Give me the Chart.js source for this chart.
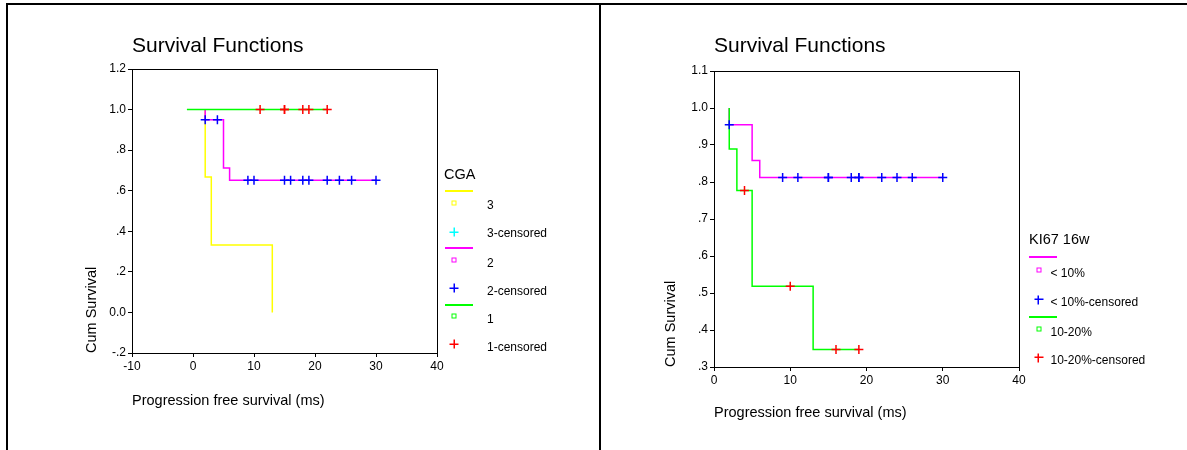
<!DOCTYPE html>
<html>
<head>
<meta charset="utf-8">
<script src="https://cdn.jsdelivr.net/npm/chart.js@4/dist/chart.umd.min.js"></script>
<style>
  body { margin: 0; background: #fff; font-family: Arial, "Liberation Sans", sans-serif; color: #000; }
  #page { position: relative; width: 1187px; height: 450px; overflow: hidden; }
  .rule { position: absolute; background: #000; }
  canvas { position: absolute; z-index: 1; }
  .leg { position: absolute; left: 0; top: 0; z-index: 5; }
  .leg-title { position: absolute; font-size: 14.5px; white-space: nowrap; transform: translateY(-50%); }
  .leg-text { position: absolute; font-size: 12px; white-space: nowrap; transform: translateY(-50%); }
  .leg-line { position: absolute; height: 2px; width: 28px; }
  .leg-sq { position: absolute; width: 3px; height: 3px; border: 1.5px solid; transform: translate(-50%, -50%); }
  .leg-cross { position: absolute; width: 9px; height: 9px; transform: translate(-50%, -50%); }
</style>
</head>
<body>
<div id="page">
  <div class="rule" style="left:6px;top:3px;width:1181px;height:2px"></div>
  <div class="rule" style="left:6px;top:3px;width:2px;height:447px"></div>
  <div class="rule" style="left:599px;top:3px;width:2px;height:447px"></div>

  <canvas id="cgaChart" width="380" height="410" style="left:80px;top:20px"></canvas>
  <canvas id="kiChart" width="380" height="410" style="left:662px;top:20px"></canvas>

  <div id="cgaLegend" class="leg"></div>
  <div id="kiLegend" class="leg"></div>
</div>

<script>
// ---- dados: grafico da esquerda (CGA) ----
const cgaTitle = 'CGA';
const cga3Time = [2, 2, 3, 13];
const cga3Surv = [1, 0.667, 0.333, 0];
const cga2Time = [2, 2, 5, 6, 30];
const cga2Surv = [1, 0.95, 0.712, 0.651, 0.651];
const cga1Time = [-1, 22];
const cga1Surv = [1, 1];
const cga2CensTime = [2, 4, 9, 10, 15, 16, 18, 19, 22, 24, 26, 30];
const cga2CensSurv = [0.95, 0.95, 0.651, 0.651, 0.651, 0.651, 0.651, 0.651, 0.651, 0.651, 0.651, 0.651];
const cga1CensTime = [11, 15, 15, 18, 19, 22];
const cga1CensSurv = [1, 1, 1, 1, 1, 1];
const cgaYTicks = ['-.2', '0.0', '.2', '.4', '.6', '.8', '1.0', '1.2'];
const cgaXTicks = ['-10', '0', '10', '20', '30', '40'];

// ---- dados: grafico da direita (KI67 16w) ----
const kiTitle = 'KI67 16w';
const kiLowTime = [2, 2, 5, 6, 30];
const kiLowSurv = [1, 0.955, 0.858, 0.812, 0.812];
const kiHighTime = [2, 2, 3, 5, 13, 19];
const kiHighSurv = [1, 0.889, 0.777, 0.518, 0.347, 0.347];
const kiLowCensTime = [2, 9, 11, 15, 15, 18, 19, 19, 22, 24, 26, 30];
const kiLowCensSurv = [0.955, 0.812, 0.812, 0.812, 0.812, 0.812, 0.812, 0.812, 0.812, 0.812, 0.812, 0.812];
const kiHighCensTime = [4, 10, 16, 19];
const kiHighCensSurv = [0.777, 0.518, 0.347, 0.347];
const kiYTicks = ['.3', '.4', '.5', '.6', '.7', '.8', '.9', '1.0', '1.1'];
const kiXTicks = ['0', '10', '20', '30', '40'];

const FONT = 'Arial, "Liberation Sans", sans-serif';
Chart.defaults.font.family = FONT;
Chart.defaults.color = '#000';

function pts(xs, ys) {
    return xs.map((x, i) => ({ x: x, y: ys[i] }));
}

function curve(label, xs, ys, color) {
    return { label: label, data: pts(xs, ys), borderColor: color, borderWidth: 1.5,
             stepped: 'before', pointRadius: 0, fill: false, order: 2 };
}

function marks(label, xs, ys, color) {
    return { label: label, data: pts(xs, ys), borderColor: color, backgroundColor: color,
             showLine: false, pointStyle: 'cross', pointRadius: 4.5, borderWidth: 1.5, order: 1 };
}

// desenha a caixa completa em volta da area do grafico
const boxPlugin = {
    id: 'box',
    beforeDatasetsDraw(chart) {
        const a = chart.chartArea, c = chart.ctx;
        c.save();
        c.strokeStyle = '#000';
        c.lineWidth = 1;
        c.strokeRect(Math.round(a.left) + 0.5, Math.round(a.top) + 0.5,
                     Math.round(a.right - a.left), Math.round(a.bottom - a.top));
        c.restore();
    }
};

function makeOptions(o) {
    return {
        responsive: false,
        animation: false,
        layout: { padding: { left: 0, top: 0, right: 23, bottom: 0 } },
        plugins: {
            legend: { display: false },
            tooltip: { enabled: false },
            title: { display: true, text: 'Survival Functions', align: 'start', fullSize: false,
                     color: '#000', font: { size: 21, weight: 'normal' },
                     padding: { top: 13.4, bottom: o.titleBottom } }
        },
        scales: {
            x: {
                type: 'linear', min: o.xMin, max: 40,
                ticks: { stepSize: 10, padding: 2, color: '#000', font: { size: 12 },
                         callback: (v, i) => o.xTicks[i] },
                grid: { drawOnChartArea: false, drawTicks: true, tickLength: 4, color: '#000' },
                border: { display: true, color: '#000' },
                title: { display: true, text: 'Progression free survival (ms)', align: 'start',
                         color: '#000', font: { size: 14.5 }, padding: { top: 0, bottom: o.xTitlePad } },
                afterFit: s => { s.height = o.xHeight; }
            },
            y: {
                min: o.yMin, max: o.yMax,
                ticks: { stepSize: o.yStep, padding: 2, color: '#000', font: { size: 12 },
                         callback: (v, i) => o.yTicks[i] },
                grid: { drawOnChartArea: false, drawTicks: true, tickLength: 4, color: '#000' },
                border: { display: true, color: '#000' },
                title: { display: true, text: 'Cum Survival', align: 'start',
                         color: '#000', font: { size: 14.5 }, padding: { top: o.yTitlePad, bottom: 0 } },
                afterFit: s => { s.width = 52; }
            }
        }
    };
}

new Chart(document.getElementById('cgaChart'), {
    type: 'line',
    data: {
        datasets: [
            marks('1-censored', cga1CensTime, cga1CensSurv, '#ff0000'),
            marks('2-censored', cga2CensTime, cga2CensSurv, '#0000ff'),
            curve('1', cga1Time, cga1Surv, '#00ff00'),
            curve('2', cga2Time, cga2Surv, '#ff00ff'),
            curve('3', cga3Time, cga3Surv, '#ffff00')
        ]
    },
    options: makeOptions({ xMin: -10, yMin: -0.2, yMax: 1.2, yStep: 0.2, xTicks: cgaXTicks, yTicks: cgaYTicks,
                           titleBottom: 10.4, xHeight: 77, xTitlePad: 20.3, yTitlePad: 3.3 }),
    plugins: [boxPlugin]
});

new Chart(document.getElementById('kiChart'), {
    type: 'line',
    data: {
        datasets: [
            marks('10-20%-censored', kiHighCensTime, kiHighCensSurv, '#ff0000'),
            marks('< 10%-censored', kiLowCensTime, kiLowCensSurv, '#0000ff'),
            curve('10-20%', kiHighTime, kiHighSurv, '#00ff00'),
            curve('< 10%', kiLowTime, kiLowSurv, '#ff00ff')
        ]
    },
    options: makeOptions({ xMin: 0, yMin: 0.3, yMax: 1.1, yStep: 0.1, xTicks: kiXTicks, yTicks: kiYTicks,
                           titleBottom: 12.4, xHeight: 63, xTitlePad: 8.3, yTitlePad: 0.3 }),
    plugins: [boxPlugin]
});

// ---- legendas no estilo SPSS (linha, quadrado, cruz) ----
function crossStyle(color) {
    return 'background:linear-gradient(' + color + ',' + color + ') center/100% 1.5px no-repeat,' +
           'linear-gradient(' + color + ',' + color + ') center/1.5px 100% no-repeat;';
}

function buildLegend(el, title, x0, items) {
    let html = '<div class="leg-title" style="left:' + x0.title[0] + 'px;top:' + x0.title[1] + 'px">' + title + '</div>';
    items.forEach(it => {
        html += '<div class="leg-line" style="left:' + x0.line + 'px;top:' + it.lineY + 'px;background-color:' + it.color + '"></div>';
        html += '<div class="leg-sq" style="left:' + x0.mark + 'px;top:' + it.sqY + 'px;border-color:' + it.color + '"></div>';
        html += '<div class="leg-text" style="left:' + x0.text + 'px;top:' + it.textY + 'px">' + it.label + '</div>';
        html += '<div class="leg-cross" style="left:' + x0.mark + 'px;top:' + it.crossY + 'px;' + crossStyle(it.censColor) + '"></div>';
        html += '<div class="leg-text" style="left:' + x0.text + 'px;top:' + it.censTextY + 'px">' + it.label + '-censored</div>';
    });
    el.innerHTML = html;
}

buildLegend(document.getElementById('cgaLegend'), cgaTitle,
    { title: [444, 174], line: 445, mark: 454, text: 487 },
    [
        { label: '3', color: '#ffff00', censColor: '#00ffff', lineY: 190, sqY: 203, textY: 205, crossY: 232, censTextY: 233 },
        { label: '2', color: '#ff00ff', censColor: '#0000ff', lineY: 247, sqY: 260, textY: 263, crossY: 288, censTextY: 290.5 },
        { label: '1', color: '#00ff00', censColor: '#ff0000', lineY: 304, sqY: 316, textY: 319, crossY: 344, censTextY: 346.5 }
    ]);

buildLegend(document.getElementById('kiLegend'), kiTitle,
    { title: [1029, 238.5], line: 1029, mark: 1038.5, text: 1050.5 },
    [
        { label: '&lt; 10%', color: '#ff00ff', censColor: '#0000ff', lineY: 256, sqY: 270, textY: 273, crossY: 299.5, censTextY: 301.5 },
        { label: '10-20%', color: '#00ff00', censColor: '#ff0000', lineY: 316, sqY: 328.5, textY: 331.5, crossY: 357.5, censTextY: 360 }
    ]);
</script>
</body>
</html>
